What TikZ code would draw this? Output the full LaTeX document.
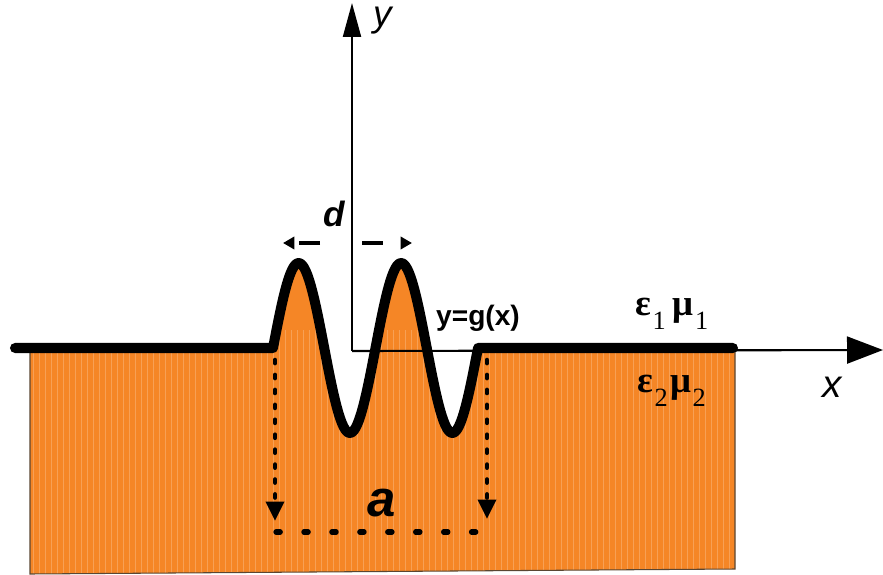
\documentclass[tikz,border=0pt]{standalone}
\usepackage{fontspec}
\setmainfont{Liberation Serif}
\setsansfont{Liberation Sans}
\usetikzlibrary{arrows.meta}
\definecolor{medium}{RGB}{245,134,38}
\definecolor{rim}{RGB}{90,70,50}
\newcommand{\lowsub}[1]{\hspace{0.8pt}\raisebox{-8pt}{\mdseries\fontsize{15}{17}\selectfont #1}}

\begin{document}
\begin{tikzpicture}[
  x=0.02cm, y=-0.02cm,
  font=\sffamily,
  xaxis/.style={line width=1.2pt,-{Triangle[length=0.72cm,width=0.54cm]}},
  yaxis/.style={line width=1.2pt,-{Triangle[length=0.68cm,width=0.36cm]}},
  surf/.style={line width=5.7pt,line cap=round,line join=round},
  dimarr/.style={line width=2.4pt,dash pattern=on 12pt off 20pt,
                 -{Triangle[length=6.5pt,width=7pt]}},
  dotline/.style={line width=2.6pt,line cap=round,
                  dash pattern=on 1.8pt off 6.7pt},
  dotarr/.style={dotline,-{Triangle[length=11pt,width=10pt]}},
  dothor/.style={line width=3pt,line cap=round,
                 dash pattern=on 2.4pt off 13.5pt},
  lbl/.style={inner sep=0pt},
  glyph/.style={lbl,font=\rmfamily\bfseries\fontsize{21}{24}\selectfont},
]
  \useasboundingbox (0,0) rectangle (883,575);

  % lower medium, cut by the grating
  \fill[medium,draw=rim,line width=0.6pt,
    path picture={\foreach \s in {33,39,...,735}
      \draw[white,opacity=0.22,line width=0.3pt] (\s,330) -- (\s,580);}]
    (30,350) -- (273,348)
    -- plot[domain=273:478,samples=120] (\x,{348-85*sin(3.5122*(\x-273))})
    -- (735,350) -- (735,569) -- (30,574) -- cycle;

  \coordinate (o) at (352,351);
  \coordinate (xend) at (883,350);
  \coordinate (yend) at (352,3);
  \draw[xaxis] (o) -- (xend);
  \draw[yaxis] (o) -- (yend);

  \draw[surf] (15,348) -- (273,348)
    -- plot[domain=273:478,samples=120] (\x,{348-85*sin(3.5122*(\x-273))})
    -- (733,348);

  \coordinate (dl) at (320,243);
  \coordinate (dlt) at (283,243);
  \coordinate (dr) at (362,243);
  \coordinate (drt) at (412,243);
  \draw[dimarr] (dl) -- (dlt);
  \draw[dimarr] (dr) -- (drt);

  \coordinate (al) at (275,360);
  \coordinate (alt) at (275,521);
  \coordinate (ar) at (487,360);
  \coordinate (art) at (487,519);
  \coordinate (bl) at (276,532);
  \coordinate (br) at (491,532);
  \draw[dotarr] (al) -- (alt);
  \draw[dotarr] (ar) -- (art);
  \draw[dothor] (bl) -- (br);

  \node[lbl,font=\sffamily\itshape\fontsize{21}{24}\selectfont] (ylab) at (383,21) {y};
  \node[lbl,font=\sffamily\itshape\fontsize{22}{25}\selectfont] (xlab) at (832,387) {x};
  \node[lbl,font=\sffamily\bfseries\itshape\fontsize{20}{24}\selectfont] (dlab) at (334,214) {d};
  \node[lbl,font=\sffamily\bfseries\itshape\fontsize{29}{32}\selectfont] (alab) at (382,503) {a};
  \node[lbl,font=\sffamily\bfseries\fontsize{16}{19}\selectfont] (glab) at (478,318) {y=g(x)};
  \node[glyph,anchor=base west] (m1) at (635,315)
    {ε\lowsub{1}\hspace{4pt}μ\lowsub{1}};
  \node[glyph,anchor=base west] (m2) at (637,392)
    {ε\lowsub{2}\hspace{1.5pt}μ\lowsub{2}};
\end{tikzpicture}
\end{document}
